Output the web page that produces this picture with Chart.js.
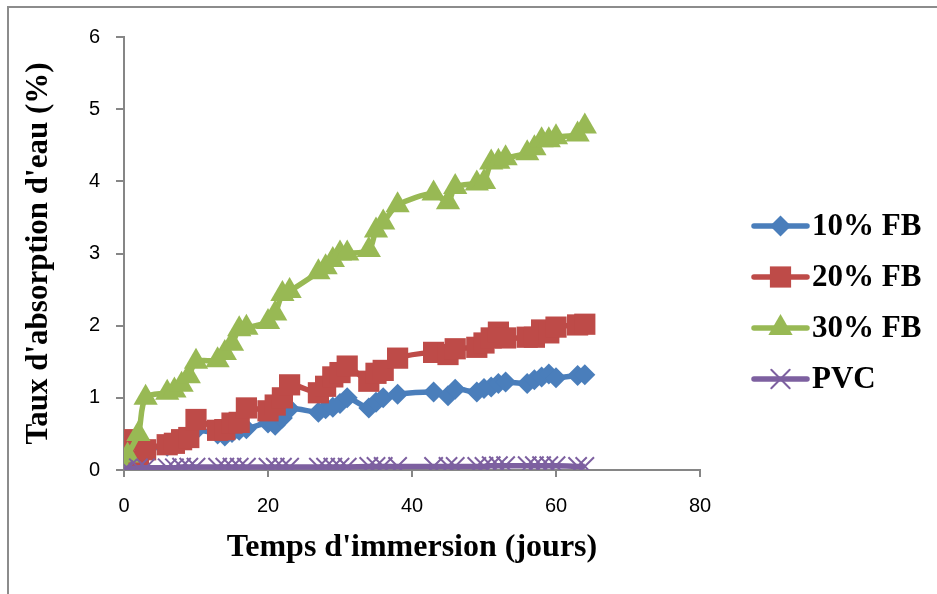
<!DOCTYPE html>
<html>
<head>
<meta charset="utf-8">
<script src="https://cdn.jsdelivr.net/npm/chart.js@4.4.1/dist/chart.umd.min.js"></script>
<style>
html,body{margin:0;padding:0;background:#fff;overflow:hidden;}
#wrap{position:relative;width:937px;height:594px;}
#frame{position:absolute;left:7px;top:6px;width:1000px;height:1000px;border:2px solid #8c8c8c;box-sizing:border-box;pointer-events:none;}
canvas{position:absolute;left:0;top:0;}
</style>
</head>
<body>
<div id="wrap"><canvas id="c" width="937" height="594"></canvas><div id="frame"></div></div>
<script>
const days = [0,0.5,2,3,6,7,8,9,10,13,14,15,16,17,20,21,22,23,27,28,29,30,31,34,35,36,38,43,45,46,49,50,51,52,53,56,57,58,59,60,63,64];
const fb10 = [0,0.05,0.15,0.28,0.33,0.36,0.4,0.48,0.55,0.5,0.47,0.52,0.55,0.57,0.65,0.62,0.72,0.85,0.8,0.85,0.87,0.92,1.0,0.86,0.94,1.0,1.05,1.08,1.03,1.12,1.08,1.13,1.15,1.2,1.22,1.2,1.25,1.29,1.33,1.28,1.31,1.32];
const fb20 = [0,0.42,0.05,0.28,0.35,0.37,0.42,0.45,0.7,0.55,0.56,0.65,0.66,0.86,0.82,0.9,1.0,1.18,1.07,1.16,1.29,1.35,1.44,1.23,1.34,1.38,1.55,1.63,1.6,1.68,1.7,1.76,1.83,1.91,1.83,1.84,1.84,1.94,1.9,1.98,2.01,2.02];
const fb30 = [0,0.2,0.5,1.0,1.07,1.1,1.18,1.3,1.5,1.52,1.62,1.75,1.95,1.97,2.05,2.17,2.44,2.48,2.74,2.81,2.91,3.0,3.0,3.05,3.32,3.43,3.67,3.83,3.71,3.92,3.97,3.99,4.26,4.27,4.32,4.39,4.46,4.57,4.57,4.61,4.65,4.76];
const pvc  = [0,0.02,0.03,0.03,0.03,0.03,0.04,0.04,0.04,0.04,0.04,0.04,0.04,0.04,0.04,0.04,0.04,0.04,0.04,0.04,0.04,0.04,0.04,0.05,0.05,0.05,0.05,0.05,0.05,0.05,0.05,0.05,0.06,0.06,0.06,0.06,0.06,0.06,0.06,0.06,0.05,0.05];
const seriesNames = ['10% FB','20% FB','30% FB','PVC'];
const xTitle = "Temps d'immersion (jours)";
const yTitle = "Taux d'absorption d'eau (%)";

const toXY = arr => days.map((d,i)=>({x:d,y:arr[i]}));
const styles = [
  {line:'#4A7EBB', fill:'#4A7EBB', pointStyle:'rectRot', r:10.5, bw:0, order:3},
  {line:'#BE4B48', fill:'#BE4B48', pointStyle:'rect', r:15, bw:0, order:2},
  {line:'#98B954', fill:'#98B954', pointStyle:'triangle', r:14, bw:0, order:1},
  {line:'#7D60A0', fill:'#7D60A0', pointStyle:'crossRot', r:13, bw:2, order:0}
];
const allData = [fb10, fb20, fb30, pvc];
const datasets = allData.map((arr,i)=>({
  label: seriesNames[i],
  data: toXY(arr),
  borderColor: styles[i].line,
  backgroundColor: styles[i].fill,
  borderWidth: 5.5,
  tension: 0.3,
  pointStyle: styles[i].pointStyle,
  pointRadius: styles[i].r,
  pointBackgroundColor: styles[i].fill,
  pointBorderColor: styles[i].fill,
  pointBorderWidth: styles[i].bw,
  order: styles[i].order,
  showLine: true
}));

const legendPlugin = {
  id: 'customLegend',
  afterDraw(chart) {
    const ctx = chart.ctx;
    const ys = [226, 277, 328, 379];
    ctx.save();
    chart.data.datasets.forEach((ds, i) => {
      const y = ys[i];
      ctx.strokeStyle = ds.borderColor;
      ctx.lineWidth = 5.5;
      ctx.lineCap = 'round';
      ctx.beginPath(); ctx.moveTo(754, y); ctx.lineTo(807, y); ctx.stroke();
      ctx.fillStyle = ds.pointBackgroundColor;
      ctx.strokeStyle = ds.pointBorderColor;
      ctx.lineWidth = ds.pointBorderWidth || 0.01;
      Chart.helpers.drawPoint(ctx, {pointStyle: ds.pointStyle, radius: ds.pointRadius, rotation: 0, borderWidth: ds.pointBorderWidth}, 780.5, y);
      ctx.fillStyle = '#000';
      ctx.font = 'bold 31px "Liberation Serif", "Times New Roman", serif';
      ctx.textBaseline = 'middle';
      ctx.textAlign = 'left';
      ctx.fillText(ds.label, 812, y + 1);
    });
    ctx.restore();
  }
};

const tickFont = {family: '"Liberation Sans", Arial, sans-serif', size: 20};
const titleFont = {family: '"Liberation Serif", "Times New Roman", serif', size: 32, weight: 'bold'};
const yTitleFont = {family: '"Liberation Serif", "Times New Roman", serif', size: 31, weight: 'bold'};

new Chart(document.getElementById('c'), {
  type: 'scatter',
  data: {datasets},
  options: {
    responsive: false,
    animation: false,
    layout: {padding: {left: 0, right: 237, top: 37, bottom: 0}},
    plugins: {legend: {display: false}, tooltip: {enabled: false}},
    scales: {
      x: {
        type: 'linear', min: 0, max: 80,
        ticks: {stepSize: 20, color: '#000', font: tickFont, padding: 17},
        grid: {drawOnChartArea: false, drawTicks: true, tickLength: 7, color: '#868686', lineWidth: 2},
        border: {color: '#868686', width: 2},
        title: {display: true, text: xTitle, color: '#000', font: titleFont, padding: {top: 0, bottom: 27}},
        afterFit(scale) { scale.height = 124; }
      },
      y: {
        type: 'linear', min: 0, max: 6,
        ticks: {stepSize: 1, color: '#000', font: tickFont, padding: 16},
        grid: {drawOnChartArea: false, drawTicks: true, tickLength: 8, color: '#868686', lineWidth: 2},
        border: {color: '#868686', width: 2},
        title: {display: true, text: yTitle, color: '#000', font: yTitleFont, padding: {top: 20, bottom: 0}},
        afterFit(scale) { scale.width = 124; }
      }
    }
  },
  plugins: [legendPlugin]
});
</script>
</body>
</html>
